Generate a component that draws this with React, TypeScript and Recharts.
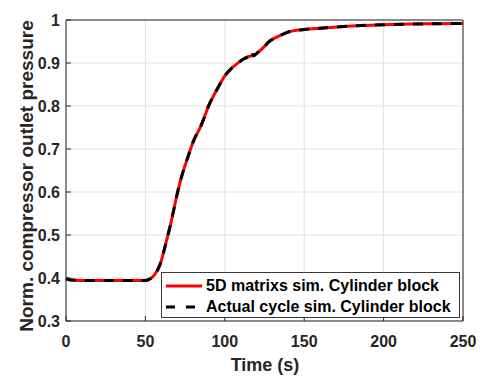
import { LineChart, Line, XAxis, YAxis, CartesianGrid, Legend } from 'recharts';

// time axis (s)
const times = [
  0, 2, 5, 10, 20, 30, 40, 50, 52, 54, 56, 58, 60, 62, 64, 66, 68, 70, 72, 74,
  76, 78, 80, 82, 84, 86, 88, 90, 95, 100, 104, 108, 112, 115, 116, 117, 118,
  120, 124, 128, 132, 136, 140, 145, 150, 160, 175, 200, 225, 250,
];

// 5D matrixs sim.
const matrixSim = [
  0.398, 0.396, 0.395, 0.394, 0.394, 0.394, 0.394, 0.394, 0.396, 0.401, 0.409,
  0.421, 0.44, 0.468, 0.497, 0.527, 0.561, 0.595, 0.625, 0.651, 0.673, 0.695,
  0.716, 0.732, 0.746, 0.763, 0.783, 0.802, 0.838, 0.87, 0.887, 0.899, 0.91,
  0.915, 0.916, 0.917, 0.918, 0.922, 0.935, 0.95, 0.959, 0.966, 0.972, 0.976,
  0.978, 0.981, 0.985, 0.989, 0.991, 0.992,
];

// Actual cycle sim.
const cycleSim = [
  0.399, 0.396, 0.395, 0.394, 0.394, 0.394, 0.394, 0.394, 0.396, 0.401, 0.409,
  0.421, 0.44, 0.468, 0.497, 0.527, 0.561, 0.595, 0.625, 0.651, 0.673, 0.695,
  0.716, 0.732, 0.746, 0.763, 0.783, 0.802, 0.838, 0.87, 0.887, 0.899, 0.91,
  0.915, 0.921, 0.927, 0.916, 0.922, 0.935, 0.95, 0.959, 0.966, 0.972, 0.976,
  0.978, 0.981, 0.985, 0.989, 0.991, 0.992,
];

const xTicks = [0, 50, 100, 150, 200, 250];
const yTicks = [0.3, 0.4, 0.5, 0.6, 0.7, 0.8, 0.9, 1];

const data = times.map((t, i) => ({ t, matrix: matrixSim[i], cycle: cycleSim[i] }));

const ink = '#262626';
const font = 'Liberation Sans, Arial, sans-serif';
const tickStyle = { fill: ink, fontSize: 16, fontWeight: 700, fontFamily: font };

const XLabel = () => (
  <text x={265} y={371} textAnchor="middle" fill={ink} fontSize={18} fontWeight={700} fontFamily={font}>
    Time (s)
  </text>
);

const YLabel = () => (
  <text transform="translate(33,176) rotate(-90)" textAnchor="middle" fill={ink} fontSize={19} fontWeight={700} fontFamily={font}>
    Norm. compressor outlet pressure
  </text>
);

const LegendBox = () => (
  <div
    style={{
      width: 297,
      height: 44,
      border: '1px solid #3a3a3a',
      background: '#fff',
      fontFamily: font,
      fontWeight: 700,
      fontSize: 16,
      color: '#000',
      boxSizing: 'content-box',
    }}
  >
    <div style={{ display: 'flex', alignItems: 'center', height: 21, marginTop: 2 }}>
      <svg width={44} height={10}>
        <line x1={4} y1={5} x2={40} y2={5} stroke="#ff0000" strokeWidth={3} />
      </svg>
      <span>5D matrixs sim. Cylinder block</span>
    </div>
    <div style={{ display: 'flex', alignItems: 'center', height: 21 }}>
      <svg width={44} height={10}>
        <line x1={4} y1={5} x2={40} y2={5} stroke="#000" strokeWidth={3} strokeDasharray="9 11" />
      </svg>
      <span>Actual cycle sim. Cylinder block</span>
    </div>
  </div>
);

export default function App() {
  return (
    <div style={{ position: 'absolute', left: 0, top: 0, background: '#fff' }}>
      <LineChart width={480} height={378} data={data} margin={{ top: 19, right: 16, left: 16, bottom: 17 }}>
        <CartesianGrid stroke="#e2e2e2" strokeWidth={1} />
        <XAxis
          dataKey="t"
          type="number"
          domain={[0, 250]}
          ticks={xTicks}
          height={40}
          stroke={ink}
          tick={tickStyle}
          tickSize={-5}
          tickMargin={20}
          label={<XLabel />}
        />
        <XAxis
          xAxisId="top"
          dataKey="t"
          type="number"
          orientation="top"
          domain={[0, 250]}
          ticks={xTicks}
          height={1}
          stroke={ink}
          tick={false}
          tickSize={-5}
        />
        <YAxis
          type="number"
          domain={[0.3, 1]}
          ticks={yTicks}
          width={50}
          stroke={ink}
          tick={tickStyle}
          tickSize={-5}
          tickMargin={11}
          tickFormatter={(v: number) => String(v)}
          label={<YLabel />}
        />
        <YAxis
          yAxisId="right"
          orientation="right"
          type="number"
          domain={[0.3, 1]}
          ticks={yTicks}
          width={1}
          stroke={ink}
          tick={false}
          tickSize={-5}
        />
        <Legend
          layout="vertical"
          verticalAlign="middle"
          align="center"
          content={() => <LegendBox />}
          wrapperStyle={{ left: 161, top: 272, width: 299, height: 46 }}
        />
        <Line
          type="monotone"
          dataKey="matrix"
          stroke="#ff0000"
          strokeWidth={3}
          dot={false}
          isAnimationActive={false}
        />
        <Line
          type="monotone"
          dataKey="cycle"
          stroke="#000"
          strokeWidth={3}
          strokeDasharray="10 9"
          dot={false}
          isAnimationActive={false}
        />
      </LineChart>
    </div>
  );
}
